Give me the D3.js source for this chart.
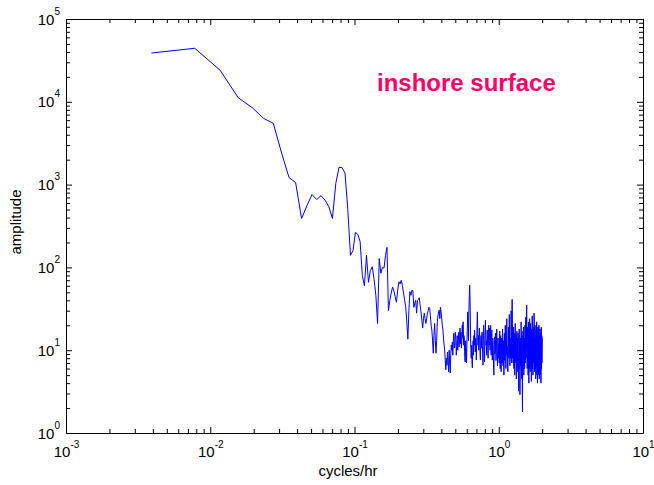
<!DOCTYPE html>
<html>
<head>
<meta charset="utf-8">
<script src="https://cdn.jsdelivr.net/npm/d3@7"></script>
<style>
  body { margin: 0; background: #fff; }
  text { font-family: "Liberation Sans", Arial, sans-serif; }
</style>
</head>
<body>
<svg id="chart" width="654" height="485"></svg>
<script>
// spectrum bins: f = k * df, k = 1..512
const df = 1 / 256
const amplitude = [
  // k 1-44
  38800, 44300, 24000, 11200, 8500, 6300, 5500, 2400, 1220, 1060,
  390, 560, 760, 660, 735, 650, 540, 390, 1040, 1620,
  1600, 1380, 500, 140, 160, 265, 250, 205, 80, 60,
  140, 66, 92, 102, 72, 46, 21, 128, 85, 100,
  98, 140, 175, 30,
  // k 45-100
  40, 49, 58, 52, 44, 38, 53, 67, 63, 70,
  60, 49, 40, 33, 22, 13.6, 30, 51, 46, 53,
  52, 33, 37, 40, 28, 40, 41, 43, 35, 29,
  23, 18.5, 24, 28, 24, 21, 24, 28, 30, 33,
  32, 26, 20, 17.5, 13.2, 9.2, 15, 21, 13, 9.2,
  13, 22, 26, 29, 30.5, 24,
  // k 101-240
  33, 29, 24, 20, 17.5, 14, 11.5, 10, 7.6, 5.8,
  8, 6.6, 9.5, 7.6, 5.5, 10, 7.2, 5.3, 8.7, 11.5,
  10, 12.5, 8.7, 13, 16, 10.6, 11.5, 16.5, 14, 8.7,
  11.5, 15, 10, 13, 16.5, 11, 14, 18.5, 12, 16.5,
  10.6, 13, 20, 14, 22, 11.5, 15, 12.5, 7.6, 7.2,
  13, 10, 7, 11.5, 18.5, 29, 23, 13, 30, 46,
  61, 40, 17.5, 10.6, 8, 11.5, 7.2, 6.1, 10, 13,
  8.7, 15, 11.5, 17.5, 13, 9.5, 14, 10.6, 7.6, 12.5,
  20, 29, 17.5, 11.5, 15, 10, 13, 18.5, 14, 8.7,
  7.6, 11.5, 15, 10.6, 13, 16.5, 11.5, 9.5, 6.6, 13,
  20, 14, 10, 7.2, 11.5, 17.5, 23, 15, 11.5, 13,
  8.7, 12, 17.5, 14, 10.6, 8, 13, 20, 15, 11.5,
  18.5, 13, 10, 14, 20, 11.5, 8.7, 13, 17.5, 11.5,
  7.6, 10, 14, 11.5, 8.7, 5.5, 5, 10, 13, 14.5,
  // k 241-256
  9, 12, 16, 11, 7.5, 9, 13, 18, 12, 8.5, 6.5, 10, 14, 11, 8, 12,
  // k 257-320
  10, 7, 13, 17, 9, 6, 11, 15, 8, 5.5,
  12, 9.5, 14, 7, 10, 18, 12, 6.5, 9, 13,
  8, 5, 11, 16, 10, 7.5, 12, 20, 14, 8,
  6, 10, 13, 9, 24, 15, 8.5, 11, 7, 5.5,
  9, 14, 19, 12, 8, 10, 27, 16, 9, 6.5,
  11, 14, 8, 10, 18, 30, 13, 7, 9.5, 22,
  41, 25, 12, 8,
  // k 321-384
  11, 7, 14, 19, 9, 6, 12, 16, 10, 5,
  8, 13, 21, 11, 7, 9.5, 15, 6, 4.5, 8,
  12, 17, 10, 6.5, 14, 9, 5.5, 11, 16, 8,
  4, 3.2, 7, 12, 18, 9, 6, 13, 2.9, 5,
  10, 14, 8, 6.5, 11, 22, 13, 7, 4.5, 9,
  15, 10, 2.5, 1.8, 6, 12, 17, 8, 11, 19,
  9, 5, 13, 10,
  // k 385-448
  8, 14, 6, 10, 20, 12, 7, 16, 9, 25,
  13, 8, 18, 11, 28, 35, 15, 9, 6, 12,
  19, 10, 7, 14, 5, 9, 22, 13, 8, 4,
  11, 17, 10, 6, 24, 14, 7.5, 12, 5.5, 9,
  16, 21, 10, 6.5, 13, 8, 4.2, 11, 18, 9,
  7, 15, 26, 12, 6, 10, 14, 5, 8.5, 19,
  11, 7, 13, 9,
  // k 449-512
  12, 28, 16, 8, 5.5, 10, 14, 7, 20, 11,
  6, 9, 15, 4.5, 8, 13, 18, 10, 6.5, 12,
  22, 9, 5, 11, 16, 7, 4, 10, 14, 19,
  8, 6, 12, 17, 9, 5, 13, 20, 10, 7,
  4.5, 11, 15, 8, 6, 14, 18, 9, 12, 5,
  7.5, 16, 10, 4, 8, 13, 19, 9, 6, 11,
  15, 7, 10, 14
]
const xExponents = [-3, -2, -1, 0, 1]
const yExponents = [0, 1, 2, 3, 4, 5]
const xLabel = "cycles/hr"
const yLabel = "amplitude"
const title = "inshore surface"

var margin = { top: 19, right: 11, bottom: 52, left: 66 }
var W = 654, H = 485
var width = W - margin.left - margin.right, height = H - margin.top - margin.bottom

var svg = d3.select("#chart")
var g = svg.append("g").attr("transform", "translate(" + margin.left + "," + margin.top + ")")

var xScale = d3.scaleLog().domain([1e-3, 1e1]).range([0, width])
var yScale = d3.scaleLog().domain([1, 1e5]).range([height, 0])

// major ticks at decades, minor at 2..9
function minorTicks(exps) {
    var out = []
    for (var i = 0; i < exps.length - 1; i++) {
        for (var m = 2; m <= 9; m++) out.push(m * Math.pow(10, exps[i]))
    }
    return out
}
var xMajor = xExponents.map(e => Math.pow(10, e)), yMajor = yExponents.map(e => Math.pow(10, e))
var xMinor = minorTicks(xExponents), yMinor = minorTicks(yExponents)

function drawAxis(axisFn, scale, vals, len, tr) {
    var a = g.append("g").attr("transform", tr)
        .call(axisFn(scale).tickValues(vals).tickSizeInner(-len).tickSizeOuter(0).tickFormat(""))
    a.select(".domain").attr("stroke", "#000")
    a.selectAll(".tick line").attr("stroke", "#000")
    return a
}
// bottom / top
var xb = drawAxis(d3.axisBottom, xScale, xMajor, 6, "translate(0," + height + ")")
drawAxis(d3.axisBottom, xScale, xMinor, 4, "translate(0," + height + ")").select(".domain").remove()
drawAxis(d3.axisTop, xScale, xMajor, 6, "translate(0,0)")
drawAxis(d3.axisTop, xScale, xMinor, 4, "translate(0,0)").select(".domain").remove()
// left / right
var yl = drawAxis(d3.axisLeft, yScale, yMajor, 6, "translate(0,0)")
drawAxis(d3.axisLeft, yScale, yMinor, 4, "translate(0,0)").select(".domain").remove()
drawAxis(d3.axisRight, yScale, yMajor, 6, "translate(" + width + ",0)")
drawAxis(d3.axisRight, yScale, yMinor, 4, "translate(" + width + ",0)").select(".domain").remove()

// tick labels 10^n
xb.selectAll(".tick").data(xExponents).each(function (e) {
    var t = d3.select(this).append("text").attr("y", 24).attr("text-anchor", "middle")
        .attr("fill", "#000").attr("font-size", 15)
    t.append("tspan").text("10")
    t.append("tspan").attr("dy", -9).attr("font-size", 10).text(e)
})
yl.selectAll(".tick").data(yExponents).each(function (e) {
    var t = d3.select(this).append("text").attr("x", -6).attr("y", 5).attr("text-anchor", "end")
        .attr("fill", "#000").attr("font-size", 15)
    t.append("tspan").text("10")
    t.append("tspan").attr("dy", -10).attr("font-size", 10).text(e)
})

// spectrum line
var points = amplitude.map((a, i) => ({ f: (i + 1) * df, a: a }))
var line = d3.line().x(d => xScale(d.f)).y(d => yScale(d.a))
g.append("path").datum(points).attr("d", line)
    .attr("fill", "none").attr("stroke", "#0000ff").attr("stroke-width", 1)

// labels
svg.append("text").attr("x", 348).attr("y", 476).attr("text-anchor", "middle")
    .attr("font-size", 15).attr("fill", "#000").text(xLabel)
svg.append("text").attr("transform", "translate(21,222) rotate(-90)").attr("text-anchor", "middle")
    .attr("font-size", 15).attr("fill", "#000").text(yLabel)
svg.append("text").attr("x", 377).attr("y", 91).attr("font-size", 24).attr("font-weight", "bold")
    .attr("fill", "#ff0066").text(title)
</script>
</body>
</html>
